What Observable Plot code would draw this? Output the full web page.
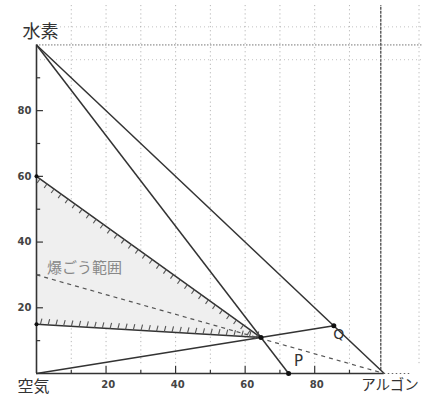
<!DOCTYPE html>
<html>
<head>
<meta charset="utf-8">
<script src="https://cdn.jsdelivr.net/npm/d3@7"></script>
<script src="https://cdn.jsdelivr.net/npm/@observablehq/plot@0.6"></script>
<style>
  html, body { margin: 0; padding: 0; background: white; }
  #chart { width: 423px; height: 398px; overflow: hidden; }
</style>
</head>
<body>
<div id="chart"></div>
<script>
// ---- data ----
const vertexNames = ["水素", "空気", "アルゴン"];
const vertexX = [0, 0, 100];
const vertexY = [100, 0, 0];
const pointP = {name: "P", x: 72.5, y: 0};
const pointQ = {name: "Q", x: 85.5, y: 14.5};
const upperLimit = {x: 0, y: 60};   // upper explosion limit on hydrogen axis
const lowerLimit = {x: 0, y: 15};   // lower explosion limit on hydrogen axis
const dashedStart = {x: 0, y: 30};
const regionLabel = "爆ごう範囲";
const regionLabelAt = {x: 3, y: 32};
const xTickValues = [20, 40, 60, 80];
const yTickValues = [20, 40, 60, 80];
const minorTickValues = [10, 30, 50, 70, 90];
const scanLinesX = [10, 20, 30, 40, 50, 60, 70, 80, 90, 110];

// ---- derived ----
const H = {x: vertexX[0], y: vertexY[0]};
const Air = {x: vertexX[1], y: vertexY[1]};
const Ar = {x: vertexX[2], y: vertexY[2]};
function intersect(a, b, c, d) {
  const den = (a.x - b.x) * (c.y - d.y) - (a.y - b.y) * (c.x - d.x);
  const t = ((a.x - c.x) * (c.y - d.y) - (a.y - c.y) * (c.x - d.x)) / den;
  return {x: a.x + t * (b.x - a.x), y: a.y + t * (b.y - a.y)};
}
const X = intersect(H, pointP, Air, pointQ);

const W = 423, HT = 398, ML = 36, MR = 1, MT = 5, MB = 25;
const xMax = 111, yMax = 112;
const kx = (W - ML - MR) / xMax, ky = (HT - MT - MB) / yMax;

function hatch(a, b, n, lenPx, angDeg) {
  const r = angDeg * Math.PI / 180;
  const dx = Math.sin(r) * lenPx / kx, dy = Math.cos(r) * lenPx / ky;
  return d3.range(n).map(i => {
    const t = (i + 0.5) / n;
    const x = a.x + (b.x - a.x) * t, y = a.y + (b.y - a.y) * t;
    return {x1: x, y1: y, x2: x + dx, y2: y + dy};
  });
}
const upperHatch = hatch(upperLimit, X, 32, 5, 215);
const lowerHatch = hatch(lowerLimit, X, 29, 6, 15);

const segments = [
  {a: H, b: Ar}, {a: H, b: pointP}, {a: Air, b: pointQ},
  {a: upperLimit, b: X}, {a: lowerLimit, b: X}
];
const vertices = vertexNames.map((n, i) => ({name: n, x: vertexX[i], y: vertexY[i]}));
const ink = "#333";

const chart = Plot.plot({
  width: W, height: HT,
  marginLeft: ML, marginRight: MR, marginTop: MT, marginBottom: MB,
  x: {domain: [0, xMax], axis: null},
  y: {domain: [0, yMax], axis: null},
  style: {background: "white", fontFamily: "DejaVu Sans", overflow: "hidden"},
  marks: [
    // faint scan dotted lines
    Plot.ruleX(scanLinesX, {y1: 3, y2: yMax, stroke: "#999", strokeDasharray: "1.2,3", strokeOpacity: 0.7}),
    Plot.ruleX([99], {y1: 1, y2: yMax, stroke: "#555", strokeWidth: 1.4, strokeDasharray: "3,1"}),
    Plot.ruleY([100], {x1: 0, x2: xMax, stroke: "#777", strokeDasharray: "1.5,1.5"}),
    Plot.ruleY([105.5, 95.5], {x1: 0, x2: xMax, stroke: "#999", strokeDasharray: "1,3", strokeOpacity: 0.6}),
    // explosion region
    Plot.areaY([{x: upperLimit.x, y1: lowerLimit.y, y2: upperLimit.y}, {x: X.x, y1: X.y, y2: X.y}],
      {x: "x", y1: "y1", y2: "y2", fill: "#efefef"}),
    // axes
    Plot.ruleX([0], {y1: 0, y2: 100, stroke: ink, strokeWidth: 1.6}),
    Plot.ruleY([0], {x1: 0, x2: 100, stroke: ink, strokeWidth: 1.6}),
    Plot.ruleY([0], {x1: 100, x2: 108, stroke: "#666", strokeDasharray: "1.5,2.5"}),
    Plot.ruleX(xTickValues, {y1: 0, y2: 2.2, stroke: ink, strokeWidth: 1.2}),
    Plot.ruleX(minorTickValues, {y1: 0, y2: 1, stroke: ink, strokeWidth: 1.2}),
    Plot.ruleY(yTickValues, {x1: 0, x2: 2, stroke: ink, strokeWidth: 1.2}),
    Plot.ruleY(minorTickValues, {x1: 0, x2: 1.2, stroke: ink, strokeWidth: 1.2}),
    Plot.text(xTickValues, {x: d => d + 0.6, y: 0, dy: 11, text: d => String(d), fontSize: 10, fontWeight: "bold", fill: "#444", lineAnchor: "middle"}),
    Plot.text(yTickValues, {x: 0, y: d => d, dx: -5, text: d => String(d), fontSize: 10, fontWeight: "bold", fill: "#444", textAnchor: "end", lineAnchor: "middle"}),
    // lines
    Plot.link(segments, {x1: d => d.a.x, y1: d => d.a.y, x2: d => d.b.x, y2: d => d.b.y, stroke: ink, strokeWidth: 1.5}),
    Plot.link([{a: dashedStart, b: Ar}], {x1: d => d.a.x, y1: d => d.a.y, x2: d => d.b.x, y2: d => d.b.y, stroke: "#555", strokeWidth: 1.2, strokeDasharray: "4,4"}),
    // hatching
    Plot.link(upperHatch, {x1: "x1", y1: "y1", x2: "x2", y2: "y2", stroke: "#555", strokeWidth: 1.1}),
    Plot.link(lowerHatch, {x1: "x1", y1: "y1", x2: "x2", y2: "y2", stroke: "#555", strokeWidth: 1.1}),
    // points
    Plot.dot([pointP, pointQ, X], {x: "x", y: "y", r: 2.5, fill: "#111"}),
    Plot.dot([upperLimit, lowerLimit], {x: "x", y: "y", r: 2, fill: "#111"}),
    // labels
    Plot.text([vertices[0]], {x: "x", y: "y", text: "name", dx: 4, dy: -13, fontSize: 18, fontFamily: "Noto Sans CJK JP", fill: "#333"}),
    Plot.text([vertices[1]], {x: "x", y: "y", text: "name", dx: -3, dy: 13, fontSize: 16, fontFamily: "Noto Sans CJK JP", fill: "#333"}),
    Plot.text([vertices[2]], {x: "x", y: "y", text: "name", dx: -23, dy: 12, textAnchor: "start", fontSize: 14.5, fontFamily: "Noto Sans CJK JP", fill: "#333"}),
    Plot.text([pointP], {x: "x", y: "y", text: "name", dx: 10, dy: -12, fontSize: 15, fill: "#333"}),
    Plot.text([pointQ], {x: "x", y: "y", text: "name", dx: 5, dy: 9, fontSize: 14, fill: "#333"}),
    Plot.text([regionLabelAt], {x: "x", y: "y", text: () => regionLabel, textAnchor: "start", fontSize: 15, fontFamily: "Noto Sans CJK JP", fill: "#888"})
  ]
});
document.getElementById("chart").appendChild(chart);
</script>
</body>
</html>
